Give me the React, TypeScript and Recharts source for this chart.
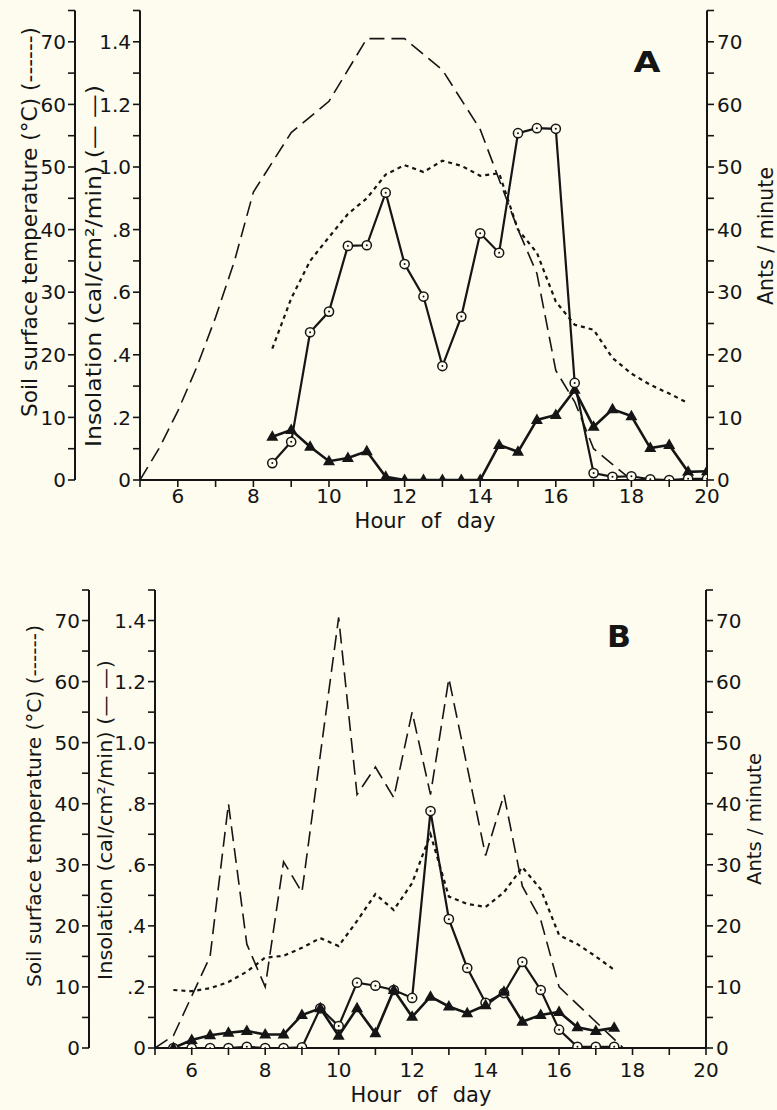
import React from 'react';
import { LineChart, Line, XAxis, YAxis } from 'recharts';

const BG = '#fdfcee';
const INK = '#151515';
const FONT = '"DejaVu Sans", "Liberation Sans", sans-serif';

// ---------- axes ----------
const hourTicks = [5, 6, 7, 8, 9, 10, 11, 12, 13, 14, 15, 16, 17, 18, 19, 20];
const hourLabels = [6, 8, 10, 12, 14, 16, 18, 20];
const tempTicks = [0, 5, 10, 15, 20, 25, 30, 35, 40, 45, 50, 55, 60, 65, 70, 75];
const tempLabels = ['0', '', '10', '', '20', '', '30', '', '40', '', '50', '', '60', '', '70', ''];
const insolTicks = [0, 0.1, 0.2, 0.3, 0.4, 0.5, 0.6, 0.7, 0.8, 0.9, 1.0, 1.1, 1.2, 1.3, 1.4, 1.5];
const insolLabels = ['0', '', '.2', '', '.4', '', '.6', '', '.8', '', '1.0', '', '1.2', '', '1.4', ''];

// ---------- panel A ----------
const insolA_hours = [5, 5.5, 6, 6.5, 7, 7.5, 8, 9, 10, 11, 12, 13, 14, 15, 15.5, 16, 16.5, 17, 17.5, 18];
const insolA_values = [0, 0.1, 0.22, 0.36, 0.52, 0.7, 0.92, 1.11, 1.21, 1.41, 1.41, 1.31, 1.12, 0.8, 0.66, 0.35, 0.25, 0.1, 0.05, 0];

const soilA_hours = [8.5, 9, 9.5, 10, 10.5, 11, 11.5, 12, 12.5, 13, 13.5, 14, 14.5, 15, 15.5, 16, 16.5, 17, 17.5, 18, 18.5, 19, 19.5];
const soilA_values = [21, 29, 35, 38.8, 42.5, 45, 48.8, 50.3, 49.2, 51, 50.2, 48.6, 49, 40, 36.3, 28.5, 24.8, 24, 19.5, 17, 15.2, 13.8, 12.3];

const antsA_hours = [8.5, 9, 9.5, 10, 10.5, 11, 11.5, 12, 12.5, 13, 13.5, 14, 14.5, 15, 15.5, 16, 16.5, 17, 17.5, 18, 18.5, 19, 19.5, 20];
const circlesA_values = [2.7, 6.1, 23.6, 26.9, 37.4, 37.5, 45.9, 34.5, 29.3, 18.2, 26.1, 39.4, 36.3, 55.4, 56.2, 56.1, 15.5, 1.1, 0.5, 0.6, 0.1, 0, 0.2, 0.2];
const trianglesA_values = [6.9, 8.0, 5.3, 3.0, 3.5, 4.6, 0.5, 0, 0, 0, 0, 0, 5.6, 4.5, 9.6, 10.4, 14.4, 8.5, 11.3, 10.2, 5.1, 5.6, 1.3, 1.4];

// ---------- panel B ----------
const insolB_hours = [5, 5.5, 6.5, 7, 7.5, 8, 8.5, 9, 10, 10.5, 11, 11.5, 12, 12.5, 13, 14, 14.5, 15, 15.5, 16, 17.75];
const insolB_values = [0, 0.04, 0.3, 0.8, 0.34, 0.2, 0.61, 0.51, 1.41, 0.83, 0.92, 0.82, 1.1, 0.83, 1.21, 0.63, 0.83, 0.53, 0.42, 0.2, 0];

const seriesB_hours = [5.5, 6, 6.5, 7, 7.5, 8, 8.5, 9, 9.5, 10, 10.5, 11, 11.5, 12, 12.5, 13, 13.5, 14, 14.5, 15, 15.5, 16, 16.5, 17, 17.5];
const soilB_values = [9.5, 9.3, 9.8, 10.8, 12.5, 14.8, 15.1, 16.4, 18, 16.7, 20.8, 25.2, 22.6, 27, 35, 24.8, 23.6, 23.1, 25.5, 29.6, 26, 18.5, 17, 15, 12.8];
const circlesB_values = [0, 0, 0, 0, 0.2, 0, 0, 0.1, 6.5, 3.6, 10.7, 10.2, 9.5, 8.2, 38.8, 21.1, 13.1, 7.4, 9.0, 14.1, 9.5, 3.0, 0.2, 0.2, 0.2];
const trianglesB_values = [0, 1.3, 2.1, 2.5, 2.8, 2.2, 2.2, 5.4, 6.5, 2.0, 6.5, 2.4, 9.5, 5.1, 8.4, 6.8, 5.7, 7.0, 9.2, 4.3, 5.4, 5.9, 3.4, 2.8, 3.3];

const toData = (hours: number[], values: number[]) => hours.map((h, i) => ({ h, v: values[i] }));

// ---------- tick renderers ----------
const makeLeftTick = (ticks: number[], labels: string[]) => (props: any) => {
  const { x, y, payload } = props;
  const label = labels[ticks.indexOf(payload.value)] || '';
  if (!label) return <g />;
  return (
    <text x={x} y={y} dy="0.36em" textAnchor="end" fontSize={20} fontFamily={FONT} fill={INK}>
      {label}
    </text>
  );
};
const makeRightTick = (ticks: number[], labels: string[]) => (props: any) => {
  const { x, y, payload } = props;
  const label = labels[ticks.indexOf(payload.value)] || '';
  if (!label) return <g />;
  return (
    <text x={x} y={y} dy="0.36em" textAnchor="start" fontSize={20} fontFamily={FONT} fill={INK}>
      {label}
    </text>
  );
};
const makeHourTick = (dy: number) => (props: any) => {
  const { x, y, payload } = props;
  if (hourLabels.indexOf(payload.value) < 0) return <g />;
  return (
    <text x={x} y={y + dy} dy="0.71em" textAnchor="middle" fontSize={20} fontFamily={FONT} fill={INK}>
      {payload.value}
    </text>
  );
};

const tempTick = makeLeftTick(tempTicks, tempLabels);
const insolTick = makeLeftTick(insolTicks, insolLabels);
const antsTick = makeRightTick(tempTicks, tempLabels);

// ---------- markers ----------
const CircleDot = (props: any) => {
  const { cx, cy, index } = props;
  if (cx == null || cy == null) return <g key={`c${index}`} />;
  return (
    <g key={`c${index}`}>
      <circle cx={cx} cy={cy} r={4.6} fill={BG} stroke={INK} strokeWidth={1.5} />
      <circle cx={cx} cy={cy} r={1} fill={INK} />
    </g>
  );
};
const TriDot = (props: any) => {
  const { cx, cy, index } = props;
  if (cx == null || cy == null) return <g key={`t${index}`} />;
  return <path key={`t${index}`} d={`M${cx},${cy - 6.5} L${cx + 6},${cy + 4} L${cx - 6},${cy + 4} Z`} fill={INK} />;
};

type PanelProps = {
  width: number;
  height: number;
  top: number;
  insWidth: number;
  soilWidth: number;
  rightWidth: number;
  xAxisHeight: number;
  labelGap: number;
  insol: { h: number; v: number }[];
  soil: { h: number; v: number }[];
  circles: { h: number; v: number }[];
  triangles: { h: number; v: number }[];
  circlesOnTop: boolean;
};

const axisLine = { stroke: INK, strokeWidth: 2 };
const tickLine = { stroke: INK, strokeWidth: 1.6 };

function Panel(p: PanelProps) {
  const circleLine = (
    <Line
      key="circles"
      data={p.circles}
      dataKey="v"
      yAxisId="ants"
      type="linear"
      stroke={INK}
      strokeWidth={2.2}
      dot={CircleDot}
      activeDot={false}
      isAnimationActive={false}
    />
  );
  const triLine = (
    <Line
      key="tris"
      data={p.triangles}
      dataKey="v"
      yAxisId="ants"
      type="linear"
      stroke={INK}
      strokeWidth={2.6}
      dot={TriDot}
      activeDot={false}
      isAnimationActive={false}
    />
  );
  return (
    <LineChart
      width={p.width}
      height={p.height}
      margin={{ top: p.top, right: 0, bottom: 0, left: 0 }}
      style={{ position: 'absolute', left: 0, top: 0 }}
    >
      <XAxis
        dataKey="h"
        type="number"
        domain={[5, 20]}
        ticks={hourTicks}
        interval={0}
        allowDataOverflow
        height={p.xAxisHeight}
        tickSize={7}
        tickMargin={2}
        axisLine={axisLine}
        tickLine={tickLine}
        tick={makeHourTick(p.labelGap)}
      />
      <YAxis
        yAxisId="ins"
        orientation="left"
        type="number"
        domain={[0, 1.5]}
        ticks={insolTicks}
        interval={0}
        allowDataOverflow
        width={p.insWidth}
        tickSize={7}
        tickMargin={2}
        axisLine={axisLine}
        tickLine={tickLine}
        tick={insolTick}
      />
      <YAxis
        yAxisId="soil"
        orientation="left"
        type="number"
        domain={[0, 75]}
        ticks={tempTicks}
        interval={0}
        allowDataOverflow
        width={p.soilWidth}
        tickSize={7}
        tickMargin={2}
        axisLine={axisLine}
        tickLine={tickLine}
        tick={tempTick}
      />
      <YAxis
        yAxisId="ants"
        orientation="right"
        type="number"
        domain={[0, 75]}
        ticks={tempTicks}
        interval={0}
        allowDataOverflow
        width={p.rightWidth}
        tickSize={7}
        tickMargin={3}
        axisLine={axisLine}
        tickLine={tickLine}
        tick={antsTick}
      />
      <Line
        data={p.insol}
        dataKey="v"
        yAxisId="ins"
        type="linear"
        stroke={INK}
        strokeWidth={1.6}
        strokeDasharray="15 7"
        dot={false}
        activeDot={false}
        isAnimationActive={false}
      />
      <Line
        data={p.soil}
        dataKey="v"
        yAxisId="soil"
        type="linear"
        stroke={INK}
        strokeWidth={2.2}
        strokeDasharray="4 4"
        dot={false}
        activeDot={false}
        isAnimationActive={false}
      />
      {p.circlesOnTop ? triLine : circleLine}
      {p.circlesOnTop ? circleLine : triLine}
    </LineChart>
  );
}

const titleStyle = { fontFamily: FONT, fill: INK } as const;

export default function App() {
  return (
    <div
      style={{
        position: 'absolute',
        left: 0,
        top: 0,
        width: 777,
        height: 1110,
        background: BG,
        overflow: 'hidden',
      }}
    >
      <div style={{ position: 'absolute', left: 0, top: 0, width: 777, height: 520 }}>
        <Panel
          width={777}
          height={520}
          top={10.5}
          insWidth={65}
          soilWidth={75}
          rightWidth={70}
          xAxisHeight={40}
          labelGap={0}
          insol={toData(insolA_hours, insolA_values)}
          soil={toData(soilA_hours, soilA_values)}
          circles={toData(antsA_hours, circlesA_values)}
          triangles={toData(antsA_hours, trianglesA_values)}
          circlesOnTop={true}
        />
      </div>
      <div style={{ position: 'absolute', left: 0, top: 560, width: 777, height: 530 }}>
        <Panel
          width={777}
          height={530}
          top={30}
          insWidth={66}
          soilWidth={89}
          rightWidth={71}
          xAxisHeight={42}
          labelGap={6}
          insol={toData(insolB_hours, insolB_values)}
          soil={toData(seriesB_hours, soilB_values)}
          circles={toData(seriesB_hours, circlesB_values)}
          triangles={toData(seriesB_hours, trianglesB_values)}
          circlesOnTop={false}
        />
      </div>
      <svg
        width={777}
        height={1110}
        style={{ position: 'absolute', left: 0, top: 0, pointerEvents: 'none' }}
      >
        {/* Panel A titles */}
        <text
          transform="translate(30,222) rotate(-90)"
          textAnchor="middle"
          dominantBaseline="central"
          fontSize={21}
          textLength={390}
          lengthAdjust="spacingAndGlyphs"
          {...titleStyle}
        >
          Soil surface temperature (°C) (------)
        </text>
        <text
          transform="translate(94,266) rotate(-90)"
          textAnchor="middle"
          dominantBaseline="central"
          fontSize={21}
          textLength={362}
          lengthAdjust="spacingAndGlyphs"
          {...titleStyle}
        >
          Insolation (cal/cm²/min) (— —)
        </text>
        <text
          transform="translate(766,236) rotate(-90)"
          textAnchor="middle"
          dominantBaseline="central"
          fontSize={20.5}
          textLength={138}
          lengthAdjust="spacingAndGlyphs"
          {...titleStyle}
        >
          Ants / minute
        </text>
        <text x={425} y={528} textAnchor="middle" fontSize={21} wordSpacing={9} {...titleStyle}>
          Hour of day
        </text>
        <text
          x={647}
          y={72}
          textAnchor="middle"
          fontSize={29}
          fontWeight="bold"
          textLength={27}
          lengthAdjust="spacingAndGlyphs"
          {...titleStyle}
        >
          A
        </text>

        {/* Panel B titles */}
        <text
          transform="translate(34,806) rotate(-90)"
          textAnchor="middle"
          dominantBaseline="central"
          fontSize={20}
          textLength={362}
          lengthAdjust="spacingAndGlyphs"
          {...titleStyle}
        >
          Soil surface temperature (°C) (------)
        </text>
        <text
          transform="translate(105,820) rotate(-90)"
          textAnchor="middle"
          dominantBaseline="central"
          fontSize={20}
          textLength={320}
          lengthAdjust="spacingAndGlyphs"
          {...titleStyle}
        >
          Insolation (cal/cm²/min) (— —)
        </text>
        <text
          transform="translate(754,819) rotate(-90)"
          textAnchor="middle"
          dominantBaseline="central"
          fontSize={20}
          textLength={132}
          lengthAdjust="spacingAndGlyphs"
          {...titleStyle}
        >
          Ants / minute
        </text>
        <text x={421} y={1102} textAnchor="middle" fontSize={21} wordSpacing={9} {...titleStyle}>
          Hour of day
        </text>
        <text
          x={619}
          y={647}
          textAnchor="middle"
          fontSize={31}
          fontWeight="bold"
          textLength={24}
          lengthAdjust="spacingAndGlyphs"
          {...titleStyle}
        >
          B
        </text>
      </svg>
    </div>
  );
}
